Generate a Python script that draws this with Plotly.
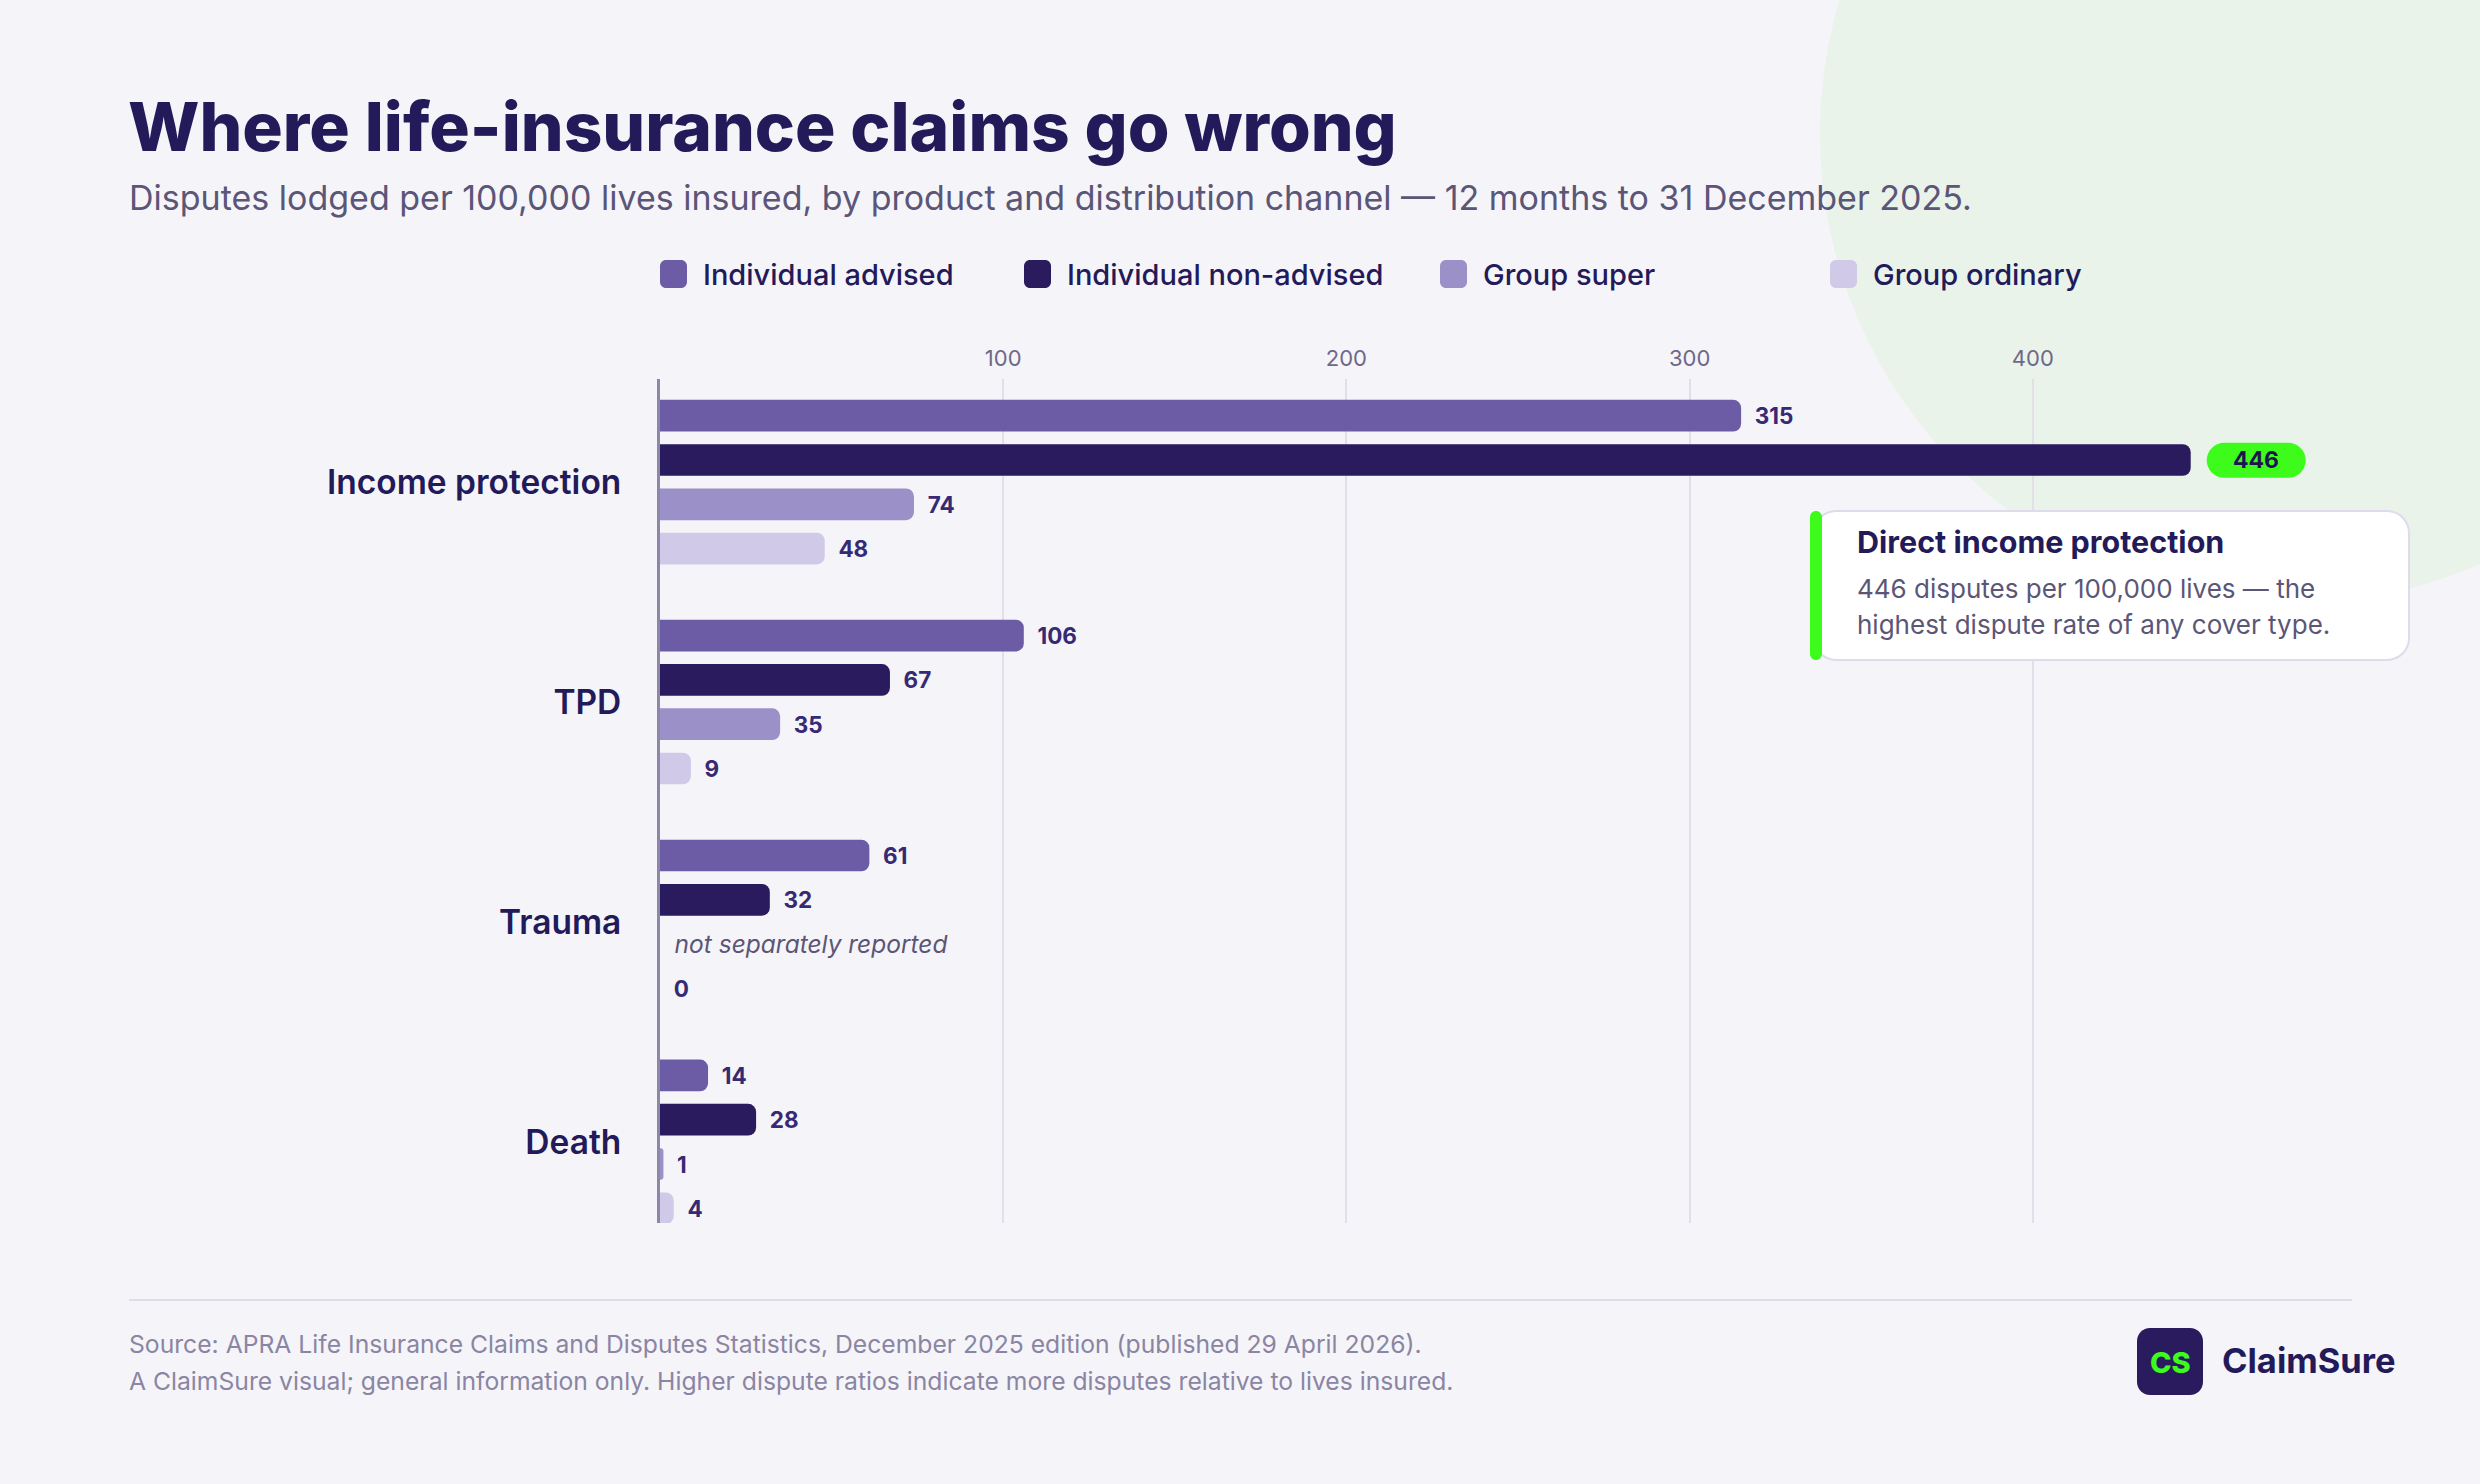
import plotly.graph_objects as go

# ---------------- data ----------------
categories = ["Income protection", "TPD", "Trauma", "Death"]
series_names = ["Individual advised", "Individual non-advised", "Group super", "Group ordinary"]
individual_advised = [315, 106, 61, 14]
individual_non_advised = [446, 67, 32, 28]
group_super = [74, 35, None, 1]
group_ordinary = [48, 9, 0, 4]
x_tick_values = [100, 200, 300, 400]
missing_note = "not separately reported"

title_text = "Where life-insurance claims go wrong"
subtitle_text = ("Disputes lodged per 100,000 lives insured, by product and distribution channel "
                 "\u2014 12 months to 31 December 2025.")
callout_title = "Direct income protection"
callout_lines = ["446 disputes per 100,000 lives \u2014 the",
                 "highest dispute rate of any cover type."]
source_lines = ["Source: APRA Life Insurance Claims and Disputes Statistics, December 2025 edition (published 29 April 2026).",
                "A ClaimSure visual; general information only. Higher dispute ratios indicate more disputes relative to lives insured."]
brand_name = "ClaimSure"
brand_initials = "CS"

# ---------------- style ----------------
W, H = 2480, 1484
L, R, T, B = 660, 70, 379, 261
PW, PH = W - L - R, H - T - B
PX_PER_UNIT = 3.4321
FONT = "Inter"
BG = "#f5f4f9"
NAVY = "#231a5a"
GREEN = "#3dfc1c"
colors = ["#6b5ca5", "#2a1a5e", "#9b90c8", "#d1c9e8"]
LABEL_COLOR = "#352a73"
MUTED = "#5b5677"

all_series = [individual_advised, individual_non_advised, group_super, group_ordinary]
max_val = max(v for s in all_series for v in s if v is not None)
max_series = next(i for i, s in enumerate(all_series) if max_val in s)
max_cat = all_series[max_series].index(max_val)

NB = "\u00a0\u00a0"


def px(X):
    return (X - L) / PW


def py(Y):
    return (H - B - Y) / PH


def rrect(x0, y0, x1, y1, rx, ry):
    k = 0.4477
    return (f"M{x0+rx},{y0} L{x1-rx},{y0} "
            f"C{x1-rx*k},{y0} {x1},{y0+ry*k} {x1},{y0+ry} "
            f"L{x1},{y1-ry} "
            f"C{x1},{y1-ry*k} {x1-rx*k},{y1} {x1-rx},{y1} "
            f"L{x0+rx},{y1} "
            f"C{x0+rx*k},{y1} {x0},{y1-ry*k} {x0},{y1-ry} "
            f"L{x0},{y0+ry} "
            f"C{x0},{y0+ry*k} {x0+rx*k},{y0} {x0+rx},{y0} Z")


def rrect_px(X0, Y0, X1, Y1, r):
    # pixel box (screen coords) -> paper path
    return rrect(px(X0), py(Y1), px(X1), py(Y0), r / PW, r / PH)


fig = go.Figure()

for si, (name, vals, col) in enumerate(zip(series_names, all_series, colors)):
    xs, texts, sizes = [], [], []
    for ci, v in enumerate(vals):
        if v is None:
            xs.append(0)
            texts.append(NB + f"<i><span style='font-weight:400;color:{MUTED}'>{missing_note}</span></i>")
            sizes.append(24.5)
        else:
            xs.append(v)
            texts.append("" if (si == max_series and ci == max_cat) else NB + str(v))
            sizes.append(22.5)
    fig.add_trace(go.Bar(
        name=name, y=categories, x=xs, orientation="h",
        marker=dict(color=col, line=dict(width=0), cornerradius=8),
        text=texts, textposition="outside", texttemplate="%{text}",
        textfont=dict(family=FONT, size=sizes, color=LABEL_COLOR, weight=700),
        constraintext="none", cliponaxis=False, hoverinfo="skip", showlegend=False,
    ))

fig.update_layout(
    width=W, height=H,
    margin=dict(l=L, r=R, t=T, b=B, pad=0),
    paper_bgcolor=BG, plot_bgcolor="rgba(0,0,0,0)",
    barmode="group", bargap=0.194, bargroupgap=0.285,
    font=dict(family=FONT, color=NAVY),
    xaxis=dict(range=[0, PW / PX_PER_UNIT], side="top", tickvals=x_tick_values,
               showgrid=True, gridcolor="#e1dfea", gridwidth=2, zeroline=False,
               showline=False, ticks="", ticklabelstandoff=8,
               tickfont=dict(family=FONT, size=22, color="#6e6889"), fixedrange=True),
    yaxis=dict(range=[3.369, -0.469], showgrid=False, zeroline=False,
               showline=True, linecolor="#8c86a9", linewidth=3, ticks="",
               ticklabelstandoff=29,
               tickfont=dict(family=FONT, size=33.5, color=NAVY, weight=600), fixedrange=True),
)

shapes = []
# decorative green circle (top-right)
cx, cy, rad = 2290, 134, 470
shapes.append(dict(type="circle", xref="paper", yref="paper",
                   x0=px(cx - rad), x1=px(cx + rad), y0=py(cy + rad), y1=py(cy - rad),
                   fillcolor="#e9f3ea", line=dict(width=0), layer="below"))

# highlight pill for the maximum value
pill_path = rrect(16, 4.5, 115, 39.5, 17.5, 17.5)
shapes.append(dict(type="path", path=pill_path, xref="x", yref="y",
                   xsizemode="pixel", ysizemode="pixel", xanchor=max_val, yanchor=max_cat,
                   fillcolor=GREEN, line=dict(width=0), layer="above"))

# callout box
shapes.append(dict(type="path", xref="paper", yref="paper", path=rrect_px(1814, 511, 2409, 660, 22),
                   fillcolor="#ffffff", line=dict(color="#dedbea", width=2), layer="above"))
shapes.append(dict(type="path", xref="paper", yref="paper", path=rrect_px(1810, 511, 1822, 660, 6),
                   fillcolor=GREEN, line=dict(width=0), layer="above"))

# legend markers
legend_x = [660, 1024, 1440, 1830]
for lx, col in zip(legend_x, colors):
    shapes.append(dict(type="path", xref="paper", yref="paper", path=rrect_px(lx, 260, lx + 27, 288, 6),
                       fillcolor=col, line=dict(width=0)))

# footer rule
shapes.append(dict(type="line", xref="paper", yref="paper", x0=px(129), x1=px(2352), y0=py(1300), y1=py(1300),
                   line=dict(color="#dfdde9", width=2)))
# logo
shapes.append(dict(type="path", xref="paper", yref="paper", path=rrect_px(2137, 1328, 2203, 1395, 13),
                   fillcolor="#2a1a5e", line=dict(width=0)))

fig.update_layout(shapes=shapes)

ann = []


def text(X, Y, s, size, color=NAVY, weight=400, anchor="left", style="normal"):
    ann.append(dict(xref="paper", yref="paper", x=px(X), y=py(Y), text=s, showarrow=False,
                    xanchor=anchor, yanchor="middle", align=anchor,
                    font=dict(family=FONT, size=size, color=color, weight=weight, style=style)))


text(126, 127, title_text, 67.5, NAVY, 800)
text(127, 197, subtitle_text, 34, MUTED)
for lx, name in zip(legend_x, series_names):
    text(lx + 41, 274, name, 29, NAVY, 500)

# pill label
ann.append(dict(xref="x", yref="y", x=max_val, y=max_cat, text=f"<b>{max_val}</b>", showarrow=False,
                xanchor="center", yanchor="middle", xshift=65.5, yshift=22,
                font=dict(family=FONT, size=23, color="#1f1450", weight=800)))

text(1855, 541, callout_title, 30.5, NAVY, 700)
text(1855, 588, callout_lines[0], 26, MUTED)
text(1855, 624, callout_lines[1], 26, MUTED)

text(127, 1344, source_lines[0], 24.7, "#8a85a3")
text(127, 1381, source_lines[1], 24.7, "#8a85a3")

text(2170, 1362, brand_initials, 29, GREEN, 800, anchor="center")
text(2220, 1360, brand_name, 34.5, NAVY, 700)

fig.update_layout(annotations=ann)

fig.write_html("out.html")
